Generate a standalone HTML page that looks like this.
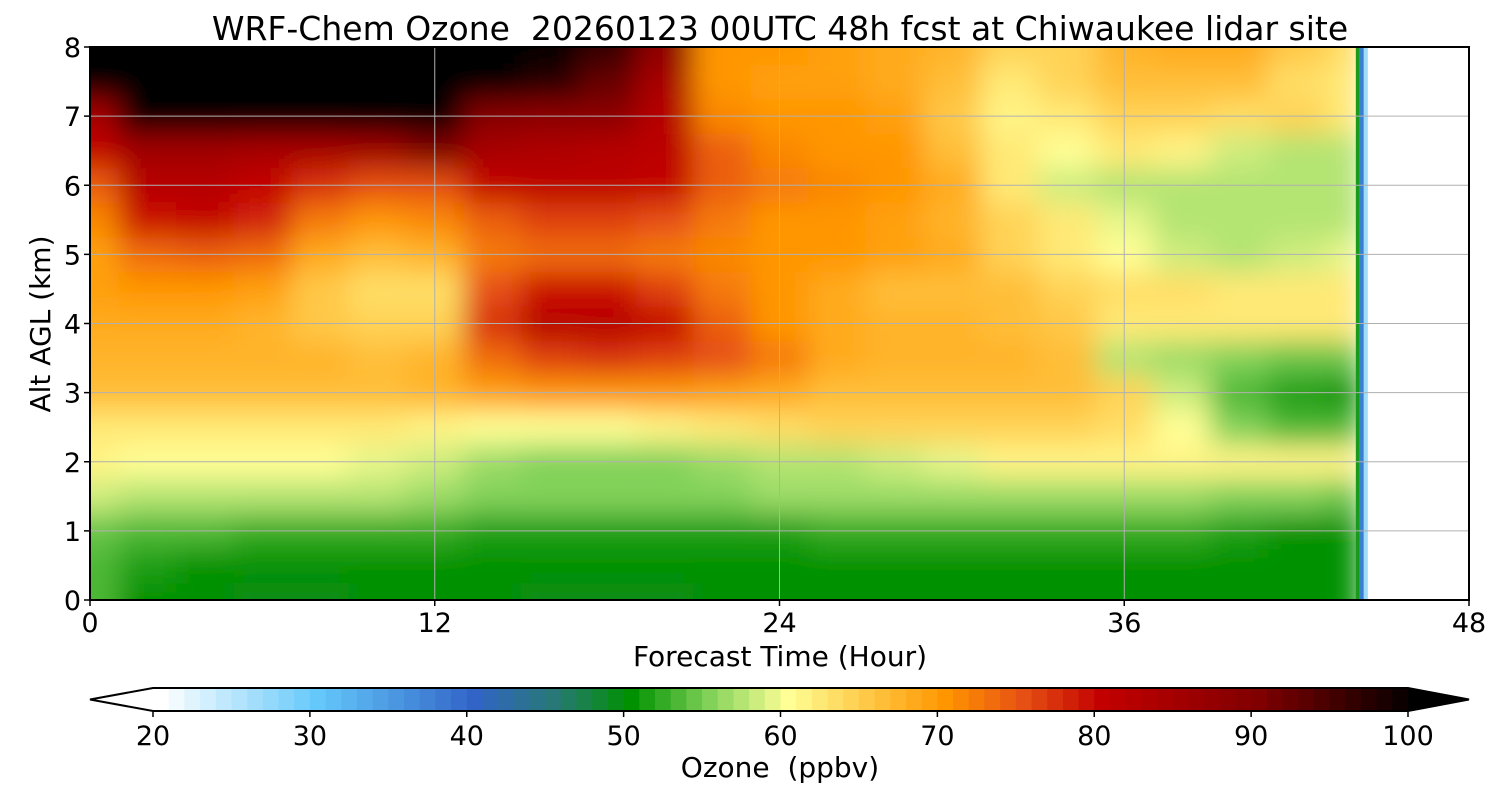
<!DOCTYPE html>
<html><head><meta charset="utf-8"><style>
body{margin:0;background:#fff;}
svg text{font-family:"DejaVu Sans","Liberation Sans",sans-serif;fill:#000;white-space:pre;}
</style></head><body>
<svg id="chart" width="1500" height="800" viewBox="0 0 1500 800" xmlns="http://www.w3.org/2000/svg">
<defs>
<clipPath id="plotclip"><rect x="90" y="47" width="1379" height="553"/></clipPath>
<filter id="smooth" x="-5%" y="-5%" width="110%" height="110%"><feGaussianBlur stdDeviation="14"/></filter>
</defs>
<rect width="1500" height="800" fill="#fff"/>
<text x="780" y="40" font-size="33" text-anchor="middle">WRF-Chem Ozone  20260123 00UTC 48h fcst at Chiwaukee lidar site</text>
<g id="field" clip-path="url(#plotclip)"></g>
<g id="grid"></g>
<rect x="90" y="47" width="1379" height="553" fill="none" stroke="#000" stroke-width="2"/>
<g id="axes"></g>
<text x="780" y="666" font-size="28" text-anchor="middle">Forecast Time (Hour)</text>
<text transform="translate(50,324) rotate(-90)" font-size="28" text-anchor="middle">Alt AGL (km)</text>
<g id="cbar"></g>
<text x="780" y="777" font-size="28" text-anchor="middle">Ozone  (ppbv)</text>
</svg>
<script>
const times=[0,2,4,6,8,10,12,14,16,18,20,22,24,26,28,30,32,34,36,38,40,42,44];
const alts=[0,0.5,1,1.5,2,2.5,3,3.5,4,4.5,5,5.5,6,6.5,7,7.5,8];
const ozone=[
[53,50,50,49,49,50,50,50,49,49,49,50,50,50,50,50,50,50,50,50,50,50,50],
[53,51,50,50,50,50,50,50,50,50,50,50,50,50,50,50,50,50,50,50,50,50,50],
[54,53,53,52,52,52,52,51,51,51,51,51,51,52,52,52,52,52,52,52,51,50,50],
[58,57,57,57,57,57,56,55,55,55,55,55,56,56,56,56,56,56,56,56,55,55,54],
[61,60,60,60,60,59,58,56,55,55,55,56,57,57,58,59,61,61,61,61,61,61,61],
[62,62,62,62,62,62,61,60,60,60,61,62,63,64,64,64,64,64,63,60,55,53,53],
[66,66,66,66,66,66,67,69,70,70,70,69,68,66,66,66,66,66,64,58,53,51,50],
[67,67,67,67,67,66,67,73,76,77,76,75,72,68,67,67,67,66,57,56,55,54,54],
[68,68,68,67,65,64,64,77,82,82,80,74,70,68,67,67,66,65,62,62,62,62,62],
[69,70,70,69,65,63,63,75,79,79,76,72,70,68,66,66,66,64,63,63,62,62,62],
[69,73,74,73,68,66,67,72,73,73,72,71,70,70,69,68,64,62,60,58,57,58,59],
[71,79,80,78,72,70,71,74,76,76,75,72,70,70,69,67,64,62,59,57,57,57,57],
[74,82,82,80,77,75,75,80,81,81,80,74,72,71,70,68,62,58,57,57,57,57,57],
[80,85,85,84,84,85,90,84,83,82,81,74,71,70,70,66,62,60,62,61,58,57,57],
[84,100,100,100,100,100,100,89,88,88,82,71,70,70,69,65,61,62,64,64,63,64,62],
[100,100,100,100,100,100,100,100,97,92,84,70,69,69,68,66,62,64,66,66,66,63,62],
[100,100,100,100,100,100,100,100,100,96,88,70,70,69,68,67,64,64,67,68,68,65,63]
];
const xTicks=[0,12,24,36,48];
const yTicks=[0,1,2,3,4,5,6,7,8];
const cbTicks=[20,30,40,50,60,70,80,90,100];
const X0=90,X1=1469,Y0=600,Y1=47;
const xs=t=>X0+(t/48)*(X1-X0);
const ys=a=>Y0-(a/8)*(Y0-Y1);
const stops=[[20,[255,255,255]],[30,[100,200,250]],[40,[50,100,200]],[45,[40,120,120]],[50,[0,145,0]],[55,[130,210,90]],[60,[255,255,150]],[65,[255,200,70]],[70,[255,150,0]],[75,[230,80,20]],[80,[195,0,0]],[90,[128,0,0]],[100,[0,0,0]]];
function cmap(v){v=Math.max(20,Math.min(100,Math.floor(v)));
 for(let i=0;i<stops.length-1;i++){const [a,ca]=stops[i],[b,cb]=stops[i+1];
  if(v<=b){const f=(v-a)/(b-a);return 'rgb('+ca.map((c,k)=>Math.round(c+(cb[k]-c)*f)).join(',')+')';}}
 return 'rgb(0,0,0)';}
const NS='http://www.w3.org/2000/svg';
function mk(tag,attrs,parent){const e=document.createElementNS(NS,tag);for(const k in attrs)e.setAttribute(k,attrs[k]);parent.appendChild(e);return e;}
const field=document.getElementById('field');
const tEnd=44.2;
const inner=mk('g',{filter:'url(#smooth)'},field);
alts.forEach((a,i)=>{times.forEach((t,j)=>{
 const t0=Math.max(0,t-1)-(j===0?2:0),t1=Math.min(tEnd,t+1);
 const a0=a-0.25-(i===0?0.5:0),a1=a+0.25+(i===alts.length-1?0.5:0);
 const r=mk('rect',{x:xs(t0),y:ys(a1),width:xs(t1)-xs(t0)+0.5,height:ys(a0)-ys(a1)+0.5,fill:cmap(ozone[i][j])},inner);
 
 
});});
mk('rect',{x:xs(tEnd),y:Y1,width:X1-xs(tEnd),height:Y0-Y1,fill:'#fff'},field);
mk('rect',{x:xs(tEnd)-4,y:Y1,width:4,height:Y0-Y1,fill:'#1a9a1a'},field);
mk('rect',{x:xs(tEnd),y:Y1,width:4,height:Y0-Y1,fill:'#3a80d0'},field);
mk('rect',{x:xs(tEnd)+4,y:Y1,width:4,height:Y0-Y1,fill:'#a0dcf8'},field);
const grid=document.getElementById('grid'),axes=document.getElementById('axes');
xTicks.forEach(t=>{
 if(t>0&&t<48)mk('line',{x1:xs(t),x2:xs(t),y1:Y1,y2:Y0,stroke:'#b0b0b0','stroke-width':1},grid);
 mk('line',{x1:xs(t),x2:xs(t),y1:Y0,y2:Y0+6,stroke:'#000','stroke-width':1.5},axes);
 const l=mk('text',{x:xs(t),y:Y0+32,'font-size':27,'text-anchor':'middle'},axes);l.textContent=t;
 
 
});
yTicks.forEach(a=>{
 if(a>0&&a<8)mk('line',{x1:X0,x2:X1,y1:ys(a),y2:ys(a),stroke:'#b0b0b0','stroke-width':1},grid);
 mk('line',{x1:X0-6,x2:X0,y1:ys(a),y2:ys(a),stroke:'#000','stroke-width':1.5},axes);
 const l=mk('text',{x:X0-9,y:ys(a)+10,'font-size':27,'text-anchor':'end'},axes);l.textContent=a;
 
 
});
const cb=document.getElementById('cbar');
const C0=153,C1=1408,CT=688,CB=711;
const cx=v=>C0+(v-20)/80*(C1-C0);
mk('polygon',{points:`${C0},${CT} ${C0},${CB} 90,${(CT+CB)/2}`,fill:'#fff',stroke:'none'},cb);
for(let v=20;v<100;v++){const r=mk('rect',{x:cx(v),y:CT,width:cx(v+1)-cx(v)+0.6,height:CB-CT,fill:cmap(v)},cb);
 
 }
mk('polygon',{points:`${C1},${CT} ${C1},${CB} 1469,${(CT+CB)/2}`,fill:'#000'},cb);
mk('polygon',{points:`${C0},${CT} ${C1},${CT} 1469,${(CT+CB)/2} ${C1},${CB} ${C0},${CB} 90,${(CT+CB)/2}`,fill:'none',stroke:'#000','stroke-width':2},cb);
cbTicks.forEach(v=>{
 mk('line',{x1:cx(v),x2:cx(v),y1:CB,y2:CB+6,stroke:'#000','stroke-width':1.5},cb);
 const l=mk('text',{x:cx(v),y:745,'font-size':27,'text-anchor':'middle'},cb);l.textContent=v;
 
 
});
</script>
</body></html>
